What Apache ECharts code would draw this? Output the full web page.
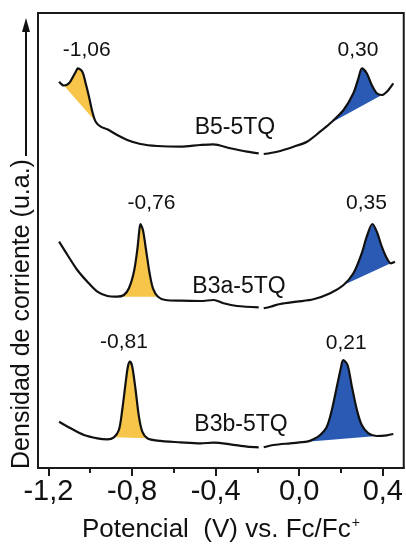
<!DOCTYPE html>
<html>
<head>
<meta charset="utf-8">
<script src="https://cdn.jsdelivr.net/npm/echarts@6/dist/echarts.min.js"></script>
<style>
  html, body { margin: 0; padding: 0; background: #fff; }
  #chart { width: 406px; height: 549px; }
</style>
</head>
<body>
<div id="chart"></div>
<script>
// Differential pulse voltammograms (arbitrary current units, curves stacked)
const sampleNames = ['B5-5TQ', 'B3a-5TQ', 'B3b-5TQ'];

// B5-5TQ
const b5Potential = [-1.149, -1.126, -1.102, -1.078, -1.065, -1.06, -1.038, -1.022, -1.006, -0.990, -0.974, -0.950, -0.918, -0.871, -0.823, -0.760, -0.680, -0.568, -0.473, -0.411, -0.330, -0.250, -0.194, -0.182, -0.170, -0.106, -0.027, 0.037, 0.100, 0.148, 0.212, 0.259, 0.283, 0.30, 0.323, 0.347, 0.371, 0.395, 0.419, 0.450];
const b5Current   = [38.63, 38.25, 38.47, 39.30, 39.80, 39.97, 39.63, 38.47, 37.13, 35.63, 34.63, 34.13, 33.87, 33.30, 32.80, 32.40, 32.20, 32.13, 32.30, 32.37, 31.97, 31.63, 31.47, null, 31.40, 31.63, 32.13, 32.63, 33.63, 34.47, 35.80, 37.47, 38.97, 39.97, 39.47, 38.30, 37.47, 37.30, 37.63, 38.47];

// B3a-5TQ
const b3aPotential = [-1.149, -1.109, -1.062, -1.014, -0.966, -0.918, -0.871, -0.839, -0.815, -0.791, -0.775, -0.766, -0.76, -0.748, -0.733, -0.716, -0.700, -0.676, -0.640, -0.568, -0.473, -0.409, -0.362, -0.298, -0.194, -0.182, -0.170, -0.138, -0.091, -0.011, 0.068, 0.148, 0.212, 0.259, 0.299, 0.323, 0.35, 0.371, 0.395, 0.419, 0.438, 0.458];
const b3aCurrent   = [22.63, 21.30, 19.80, 18.63, 17.63, 17.20, 17.13, 17.30, 17.97, 19.63, 21.80, 23.60, 24.40, 23.80, 21.80, 19.47, 17.97, 17.13, 16.80, 16.73, 16.70, 16.80, 16.47, 16.20, 16.07, null, 15.97, 16.13, 16.40, 16.63, 16.87, 17.47, 18.30, 19.47, 21.47, 23.13, 24.40, 23.63, 22.13, 20.97, 20.47, 20.63];

// B3b-5TQ
const b3bPotential = [-1.149, -1.094, -1.030, -0.966, -0.918, -0.887, -0.863, -0.847, -0.831, -0.820, -0.81, -0.799, -0.783, -0.767, -0.751, -0.727, -0.680, -0.568, -0.473, -0.409, -0.330, -0.250, -0.194, -0.182, -0.170, -0.123, -0.043, 0.037, 0.068, 0.100, 0.132, 0.156, 0.180, 0.199, 0.21, 0.231, 0.252, 0.276, 0.299, 0.331, 0.371, 0.419, 0.450];
const b3bCurrent   = [4.63, 3.97, 3.30, 2.97, 2.87, 3.07, 3.80, 5.80, 8.47, 10.13, 10.63, 10.13, 7.80, 5.13, 3.63, 2.97, 2.73, 2.57, 2.47, 2.53, 2.37, 2.13, 2.07, null, 2.07, 2.30, 2.47, 2.63, 2.87, 3.30, 4.13, 5.80, 8.13, 9.97, 10.80, 10.30, 8.13, 5.80, 4.30, 3.47, 3.20, 3.27, 3.40];

// Peak potentials (V): reduction, oxidation
const peakPotentials = [[-1.06, 0.30], [-0.76, 0.35], [-0.81, 0.21]];

// Integrated regions under each wave: [from, to] in V
const reductionRanges = [[-1.126, -0.974], [-0.871, -0.676], [-0.887, -0.727]];
const oxidationRanges = [[0.148, 0.395], [0.212, 0.438], [0.037, 0.371]];

// Axis ticks
const majorTicks = [-1.2, -0.8, -0.4, 0.0, 0.4];
const minorTicks = [-1.0, -0.6, -0.2, 0.2];

const curves = [
  { v: b5Potential, i: b5Current },
  { v: b3aPotential, i: b3aCurrent },
  { v: b3bPotential, i: b3bCurrent }
];

const pairs = c => c.v.map((x, k) => [x, c.i[k]]);

const fills = [];
curves.forEach((c, ci) => {
  fills.push({ curve: ci, range: reductionRanges[ci], color: '#F6C54A' });
  fills.push({ curve: ci, range: oxidationRanges[ci], color: '#2A5AB4' });
});

function fillPoints(f) {
  const c = curves[f.curve];
  const pts = [];
  c.v.forEach((x, k) => {
    if (x >= f.range[0] - 1e-9 && x <= f.range[1] + 1e-9 && c.i[k] != null) pts.push([x, c.i[k]]);
  });
  return pts;
}

const peakData = [];
const labelOffsets = [[9, -18], [-4, -18], [11, -21], [-6, -21], [-6, -19], [3, -17]];
peakPotentials.forEach((pp, ci) => {
  pp.forEach(p => {
    const c = curves[ci];
    const k = c.v.indexOf(p);
    peakData.push([p, c.i[k]]);
  });
});

const fmt = v => v.toFixed(1).replace('.', ',');
const font = 'Liberation Sans, Arial, sans-serif';

const chart = echarts.init(document.getElementById('chart'), null, { renderer: 'canvas' });

const series = [];

series.push({
  type: 'custom',
  z: 1,
  silent: true,
  data: fills.map((f, idx) => [f.range[0], 0, idx]),
  encode: { x: 0, y: 1 },
  renderItem: function (params, api) {
    const f = fills[params.dataIndex];
    const pts = fillPoints(f).map(p => api.coord(p));
    return {
      type: 'polygon',
      shape: { points: pts },
      style: { fill: f.color, stroke: null }
    };
  }
});

curves.forEach((c, ci) => {
  series.push({
    name: sampleNames[ci],
    type: 'line',
    z: 3,
    data: pairs(c),
    smooth: 0.3,
    showSymbol: false,
    connectNulls: false,
    lineStyle: { color: '#111', width: 2.2 },
    silent: true
  });
});

series.push({
  type: 'scatter',
  z: 4,
  symbolSize: 0,
  silent: true,
  itemStyle: { opacity: 1 },
  data: peakData.map((d, k) => ({
    value: d,
    label: {
      show: true,
      position: 'inside',
      offset: labelOffsets[k],
      formatter: p => p.value[0].toFixed(2).replace('.', ','),
      color: '#111',
      opacity: 1,
      fontSize: 21,
      fontFamily: font
    }
  }))
});

const option = {
  animation: false,
  backgroundColor: '#fff',
  grid: {
    left: 38, right: 2, top: 13, bottom: 81,
    show: true, borderColor: '#1a1a1a', borderWidth: 2, backgroundColor: 'transparent'
  },
  xAxis: [
    {
      type: 'value',
      min: -1.25,
      max: 0.5,
      axisLine: { show: true, lineStyle: { color: '#1a1a1a', width: 2 } },
      axisTick: { show: true, inside: false, length: 8, customValues: majorTicks, lineStyle: { color: '#1a1a1a', width: 2 } },
      axisLabel: { show: true, customValues: majorTicks, formatter: fmt, fontSize: 29, color: '#111', fontFamily: font, margin: 9 },
      splitLine: { show: false },
      name: '{a|Potencial  (V) vs. Fc/Fc}{s|+}',
      nameLocation: 'middle',
      nameGap: 48,
      nameTextStyle: {
        rich: {
          a: { fontSize: 26, color: '#111', fontFamily: font },
          s: { fontSize: 14, color: '#111', fontFamily: font, padding: [0, 0, 14, 1] }
        }
      }
    },
    {
      type: 'value',
      min: -1.25,
      max: 0.5,
      position: 'bottom',
      axisLine: { show: false },
      axisTick: { show: true, inside: false, length: 5, customValues: minorTicks, lineStyle: { color: '#1a1a1a', width: 2 } },
      axisLabel: { show: false },
      splitLine: { show: false }
    }
  ],
  yAxis: {
    type: 'value',
    min: 0,
    max: 45.5,
    show: false
  },
  graphic: [
    {
      type: 'text',
      x: 22, y: 314,
      rotation: Math.PI / 2,
      style: {
        text: 'Densidad de corriente (u.a.)',
        fontSize: 25,
        fontFamily: font,
        fill: '#111',
        textAlign: 'center',
        textVerticalAlign: 'middle'
      }
    },
    {
      type: 'line',
      shape: { x1: 26, y1: 156, x2: 26, y2: 28 },
      style: { stroke: '#111', lineWidth: 2 }
    },
    {
      type: 'polygon',
      shape: { points: [[26, 18], [22, 32], [30, 32]] },
      style: { fill: '#111' }
    },
    {
      type: 'text', x: 235, y: 128,
      style: { text: sampleNames[0], fontSize: 23, fontFamily: font, fill: '#111', textAlign: 'center', textVerticalAlign: 'middle' }
    },
    {
      type: 'text', x: 239, y: 287,
      style: { text: sampleNames[1], fontSize: 23, fontFamily: font, fill: '#111', textAlign: 'center', textVerticalAlign: 'middle' }
    },
    {
      type: 'text', x: 241, y: 425,
      style: { text: sampleNames[2], fontSize: 23, fontFamily: font, fill: '#111', textAlign: 'center', textVerticalAlign: 'middle' }
    }
  ],
  series: series
};

chart.setOption(option);
</script>
</body>
</html>
